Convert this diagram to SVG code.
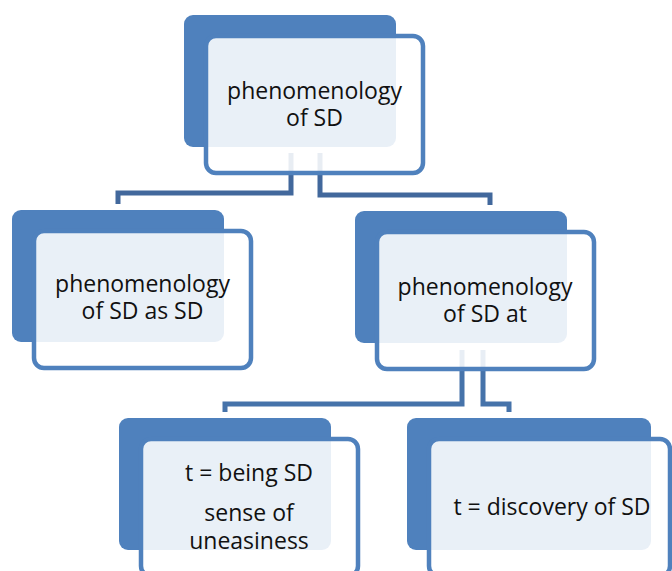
<svg xmlns="http://www.w3.org/2000/svg" width="672" height="571" viewBox="0 0 672 571">
  <defs>
    <style>
      .back { fill: #4f81bd; }
      .front { fill: #ffffff; fill-opacity: 0.88; stroke: #4f81bd; stroke-width: 4.5; }
      .conn { fill: none; stroke: #42689c; stroke-width: 5; stroke-linejoin: miter; }
      .conn2 { fill: none; stroke: #4673aa; stroke-width: 5; }
      .label { font-family: "Open Sans", "Noto Sans", sans-serif; font-size: 23px; fill: #111111; text-anchor: middle; }
    </style>
  </defs>
  <rect width="672" height="571" fill="#ffffff"/>

  <g id="connectors">
    <path class="conn" d="M291,153 V193 H118 V204"/>
    <path class="conn" d="M320,153 V195 H490 V205"/>
    <path class="conn2" d="M462,350 V404 H225 V412"/>
    <path class="conn2" d="M483,350 V404 H509 V412"/>
  </g>

  <g id="node-root">
    <rect class="back" x="184" y="15" width="212" height="132" rx="9"/>
    <rect class="front" x="206" y="36" width="217" height="137" rx="10"/>
    <text class="label" x="314.5" y="99">phenomenology</text>
    <text class="label" x="314.5" y="126">of SD</text>
  </g>

  <g id="node-as-sd">
    <rect class="back" x="12" y="210" width="212" height="132" rx="9"/>
    <rect class="front" x="34" y="231" width="217" height="137" rx="10"/>
    <text class="label" x="142.5" y="292">phenomenology</text>
    <text class="label" x="142.5" y="319">of SD as SD</text>
  </g>

  <g id="node-at">
    <rect class="back" x="355" y="211" width="212" height="132" rx="9"/>
    <rect class="front" x="377" y="232" width="217" height="137" rx="10"/>
    <text class="label" x="485" y="295">phenomenology</text>
    <text class="label" x="485" y="322">of SD at</text>
  </g>

  <g id="node-being">
    <rect class="back" x="119" y="418" width="212" height="132" rx="9"/>
    <rect class="front" x="141" y="439" width="217" height="137" rx="10"/>
    <text class="label" x="249" y="481">t = being SD</text>
    <text class="label" x="249" y="521">sense of</text>
    <text class="label" x="249" y="549">uneasiness</text>
  </g>

  <g id="node-discovery">
    <rect class="back" x="407" y="418" width="244" height="132" rx="9"/>
    <rect class="front" x="429" y="439" width="241" height="137" rx="10"/>
    <text class="label" x="552" y="515">t = discovery of SD</text>
  </g>
</svg>
